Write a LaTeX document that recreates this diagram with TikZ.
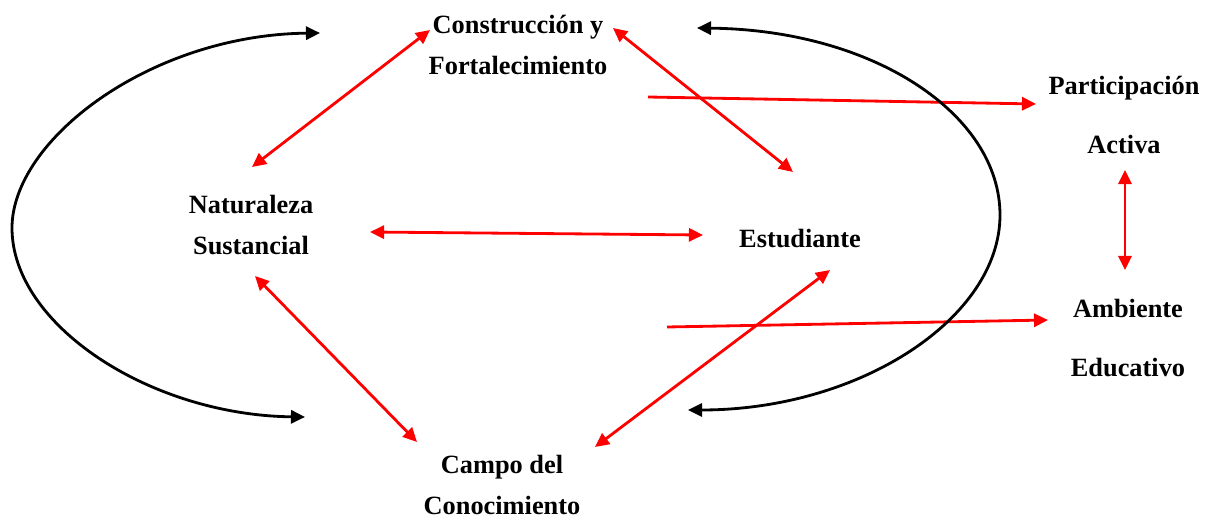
\documentclass[tikz,border=0pt]{standalone}
\usepackage{fontspec}
\setmainfont{Liberation Serif}
\usepackage{xcolor}
\usetikzlibrary{arrows.meta,calc}

\begin{document}
\begin{tikzpicture}[x=0.02cm, y=-0.02cm,
		texto/.style={font=\bfseries\fontsize{15}{23.3}\selectfont, align=center, inner sep=0pt},
		textoa/.style={font=\bfseries\fontsize{15}{33.5}\selectfont, align=center, inner sep=0pt},
		punta/.tip={Triangle[length=8pt,width=7.5pt]},
		flecha/.style={red, line width=1.6pt, -punta},
		dflecha/.style={red, line width=1.6pt, punta-punta},
		ciclo/.style={black, line width=1.6pt, punta-punta}]
				%Marco
				\useasboundingbox (0,0) rectangle (1211,520);
				%Conceptos
				\node[texto] (cons) at (518,45) {Construcción y\\Fortalecimiento};
				\node[texto] (nat) at (251,225) {Naturaleza\\Sustancial};
				\node[texto] (est) at (800,239) {Estudiante};
				\node[texto] (campo) at (502,485) {Campo del\\Conocimiento};
				\node[textoa] (part) at (1124,115) {Participación\\Activa};
				\node[textoa] (amb) at (1128,338) {Ambiente\\Educativo};
				%Flechas rojas
				\draw[dflecha] ($(nat)+(1,-58)$)--($(cons)+(-88,-15)$);
				\draw[dflecha] ($(cons)+(95,-17)$)--($(est)+(-7,-67)$);
				\draw[dflecha] ($(nat)+(119,7)$)--($(est)+(-97,-4)$);
				\draw[dflecha] ($(nat)+(4,51)$)--($(campo)+(-85,-43)$);
				\draw[dflecha] ($(campo)+(93,-38)$)--($(est)+(30,31)$);
				\draw[dflecha] ($(part)+(1,55)$)--($(amb)+(-3,-68)$);
				\draw[flecha] ($(cons)+(130,52)$)--($(part)+(-88,-11)$);
				\draw[flecha] ($(est)+(-133,88)$)--($(amb)+(-80,-18)$);
				%Ciclos
				\coordinate (izqA) at (320,33);
				\coordinate (izqB) at (305,417);
				\coordinate (derA) at (697,28);
				\coordinate (derB) at (688,410);
				\draw[ciclo] (izqB) .. controls (150,415) and (12,325) .. (12,228)
					.. controls (12,140) and (150,35) .. (izqA);
				\draw[ciclo] (derA) .. controls (875,30) and (1000,115) .. (1000,215)
					.. controls (1000,318) and (860,410) .. (derB);
\end{tikzpicture}
\end{document}
